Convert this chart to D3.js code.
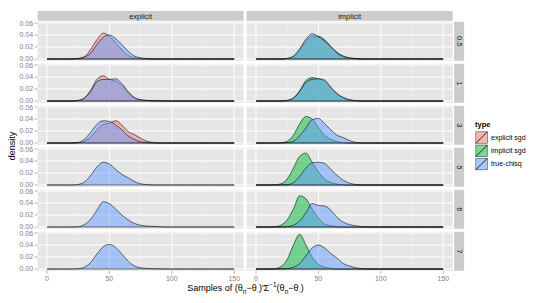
<!DOCTYPE html>
<html>
<head>
<meta charset="utf-8">
<script src="https://cdn.jsdelivr.net/npm/d3@7"></script>
<style>
body { margin:0; background:#fff; }
text { font-family: "Liberation Sans", Arial, sans-serif; }
</style>
</head>
<body>
<svg id="chart" width="550" height="303"></svg>
<script>
// grid of sample values the densities are read at
var xs = [0,5,10,15,20,25,30,35,40,45,50,55,60,65,70,75,80,85,90,95,100,105,110,115,120,125,130,135,140,145,150];

var rowLabels = ["0.5","1","3","5","6","7"];
var colLabels = ["explicit","implicit"];
var types = ["explicit sgd","implicit sgd","true-chisq"];
var typeColors = ["#F8766D","#00BA38","#619CFF"];
var xTicks = [0,50,100,150];
var yTicks = [0,0.02,0.04,0.06];

// explicit column
var exp05_sgd  = [0,0,0,0,0,0.001,0.004,0.016,0.032,0.043,0.038,0.027,0.015,0.006,0.002,0.0005,0,0,0,0,0,0,0,0,0,0,0,0,0,0,0];
var exp05_true = [0,0,0,0,0,0.0005,0.003,0.010,0.024,0.036,0.040,0.034,0.024,0.013,0.005,0.002,0.0008,0.0003,0,0,0,0,0,0,0,0,0,0,0,0,0];
var exp1_sgd   = [0,0,0,0,0,0.001,0.005,0.018,0.036,0.042,0.036,0.033,0.026,0.014,0.005,0.002,0.0008,0.0005,0.0003,0,0,0,0,0,0,0,0,0,0,0,0];
var exp1_true  = [0,0,0,0,0,0.001,0.005,0.016,0.032,0.036,0.036,0.037,0.029,0.016,0.006,0.002,0.001,0.0005,0.0003,0,0,0,0,0,0,0,0,0,0,0,0];
var exp3_sgd   = [0,0,0,0,0,0.0005,0.003,0.010,0.022,0.031,0.033,0.037,0.030,0.019,0.014,0.008,0.003,0.001,0,0,0,0,0,0,0,0,0,0,0,0,0];
var exp3_true  = [0,0,0,0,0,0.001,0.006,0.018,0.031,0.037,0.036,0.030,0.022,0.012,0.006,0.002,0.0005,0,0,0,0,0,0,0,0,0,0,0,0,0,0];
var exp5_true  = [0,0,0,0,0,0.001,0.005,0.016,0.030,0.038,0.035,0.026,0.018,0.012,0.006,0.002,0.0007,0.0002,0,0,0,0,0,0,0,0,0,0,0,0,0];
var exp6_true  = [0,0,0,0,0,0.0005,0.004,0.013,0.028,0.042,0.039,0.030,0.020,0.012,0.006,0.003,0.0015,0.001,0.0005,0,0,0,0,0,0,0,0,0,0,0,0];
var exp7_true  = [0,0,0,0,0,0.0005,0.003,0.011,0.025,0.037,0.041,0.036,0.025,0.013,0.005,0.002,0.001,0.0005,0.0003,0,0,0,0,0,0,0,0,0,0,0,0];

// implicit column
var imp05_sgd  = [0,0,0,0,0,0.0008,0.004,0.015,0.030,0.038,0.038,0.032,0.021,0.011,0.005,0.002,0.0008,0,0,0,0,0,0,0,0,0,0,0,0,0,0];
var imp05_true = [0,0,0,0,0,0.001,0.005,0.017,0.033,0.042,0.037,0.030,0.020,0.010,0.004,0.0015,0.0005,0,0,0,0,0,0,0,0,0,0,0,0,0,0];
var imp1_sgd   = [0,0,0,0,0,0.001,0.005,0.017,0.034,0.039,0.037,0.033,0.022,0.012,0.005,0.002,0.0005,0,0,0,0,0,0,0,0,0,0,0,0,0,0];
var imp1_true  = [0,0,0,0,0,0.001,0.005,0.016,0.031,0.036,0.037,0.035,0.023,0.012,0.006,0.002,0.0007,0,0,0,0,0,0,0,0,0,0,0,0,0,0];
var imp3_sgd   = [0,0,0,0,0.0005,0.003,0.013,0.032,0.044,0.040,0.026,0.013,0.006,0.002,0.0005,0,0,0,0,0,0,0,0,0,0,0,0,0,0,0,0];
var imp3_true  = [0,0,0,0,0,0.0005,0.003,0.012,0.025,0.039,0.041,0.032,0.022,0.013,0.009,0.004,0.001,0,0,0,0,0,0,0,0,0,0,0,0,0,0];
var imp5_sgd   = [0,0,0,0.0003,0.002,0.010,0.028,0.048,0.053,0.038,0.022,0.010,0.004,0.0015,0.0005,0,0,0,0,0,0,0,0,0,0,0,0,0,0,0,0];
var imp5_true  = [0,0,0,0,0,0.0005,0.004,0.014,0.028,0.037,0.038,0.036,0.026,0.016,0.008,0.003,0.001,0,0,0,0,0,0,0,0,0,0,0,0,0,0];
var imp6_sgd   = [0,0,0,0.0005,0.003,0.012,0.030,0.052,0.047,0.030,0.015,0.005,0.002,0.0005,0,0,0,0,0,0,0,0,0,0,0,0,0,0,0,0,0];
var imp6_true  = [0,0,0,0,0,0.0005,0.003,0.010,0.024,0.039,0.036,0.035,0.028,0.016,0.008,0.004,0.002,0.0005,0,0,0,0,0,0,0,0,0,0,0,0,0];
var imp7_sgd   = [0,0,0,0.0005,0.004,0.016,0.040,0.058,0.040,0.020,0.008,0.003,0.001,0,0,0,0,0,0,0,0,0,0,0,0,0,0,0,0,0,0];
var imp7_true  = [0,0,0,0,0,0.0005,0.003,0.009,0.022,0.035,0.040,0.035,0.026,0.018,0.009,0.005,0.002,0.0007,0,0,0,0,0,0,0,0,0,0,0,0,0];

// [row, col, type index, values]
var series = [
	[0,0,0,exp05_sgd],[0,0,2,exp05_true],
	[1,0,0,exp1_sgd],[1,0,2,exp1_true],
	[2,0,0,exp3_sgd],[2,0,2,exp3_true],
	[3,0,2,exp5_true],
	[4,0,2,exp6_true],
	[5,0,2,exp7_true],
	[0,1,1,imp05_sgd],[0,1,2,imp05_true],
	[1,1,1,imp1_sgd],[1,1,2,imp1_true],
	[2,1,1,imp3_sgd],[2,1,2,imp3_true],
	[3,1,1,imp5_sgd],[3,1,2,imp5_true],
	[4,1,1,imp6_sgd],[4,1,2,imp6_true],
	[5,1,1,imp7_sgd],[5,1,2,imp7_true]
];

var svg = d3.select('#chart');
var panelW = 206, panelH = 39, pitch = 42;
var colX = [37.6, 246.6];
var top0 = 21.8;

var x = d3.scaleLinear().domain([-7.5,157.5]).range([0,panelW]);
var y = d3.scaleLinear().domain([-0.003,0.062]).range([panelH,0]);

var area = d3.area()
	.x(function(d,i){ return x(xs[i]); })
	.y0(y(0))
	.y1(function(d){ return y(d); })
	.curve(d3.curveMonotoneX);

// panels
for (var r=0; r<rowLabels.length; r++){
	for (var c=0; c<colLabels.length; c++){
		var g = svg.append('g')
			.attr('id','panel'+r+'_'+c)
			.attr('transform','translate('+colX[c]+','+(top0+r*pitch)+')');
		g.append('rect').attr('width',panelW).attr('height',panelH).attr('fill','#E5E5E5');
		// minor grid
		[25,75,125].forEach(function(v){
			g.append('line').attr('x1',x(v)).attr('x2',x(v)).attr('y1',0).attr('y2',panelH)
				.attr('stroke','#F2F2F2').attr('stroke-width',0.5);
		});
		[0.01,0.03,0.05].forEach(function(v){
			g.append('line').attr('x1',0).attr('x2',panelW).attr('y1',y(v)).attr('y2',y(v))
				.attr('stroke','#F2F2F2').attr('stroke-width',0.5);
		});
		xTicks.forEach(function(v){
			g.append('line').attr('x1',x(v)).attr('x2',x(v)).attr('y1',0).attr('y2',panelH)
				.attr('stroke','#fff').attr('stroke-width',1);
		});
		yTicks.forEach(function(v){
			g.append('line').attr('x1',0).attr('x2',panelW).attr('y1',y(v)).attr('y2',y(v))
				.attr('stroke','#fff').attr('stroke-width',1);
		});
	}
}

// densities
series.forEach(function(s){
	var g = d3.select('#panel'+s[0]+'_'+s[1]);
	g.append('path')
		.datum(s[3])
		.attr('d', function(d){ return area(d) + 'Z'; })
		.attr('fill', typeColors[s[2]])
		.attr('fill-opacity',0.5)
		.attr('stroke','#000')
		.attr('stroke-opacity',0.62)
		.attr('stroke-width',0.9);
});

// column strips
colLabels.forEach(function(lab,c){
	svg.append('rect').attr('x',colX[c]).attr('y',11).attr('width',panelW).attr('height',9.8).attr('fill','#CCCCCC');
	svg.append('text').attr('x',colX[c]+panelW/2).attr('y',18.6)
		.attr('text-anchor','middle').attr('font-size',7.5).attr('fill','#1A1A1A').text(lab);
});

// row strips
rowLabels.forEach(function(lab,r){
	var sx = colX[1]+panelW+1.5, sy = top0+r*pitch;
	svg.append('rect').attr('x',sx).attr('y',sy).attr('width',10).attr('height',panelH).attr('fill','#CCCCCC');
	svg.append('text').attr('transform','translate('+(sx+2.6)+','+(sy+panelH/2)+') rotate(90)')
		.attr('text-anchor','middle').attr('font-size',7.5).attr('fill','#1A1A1A').text(lab);
});

// y axes (left column only)
rowLabels.forEach(function(lab,r){
	var g = svg.append('g').attr('transform','translate('+colX[0]+','+(top0+r*pitch)+')');
	yTicks.forEach(function(v){
		g.append('line').attr('x1',-3).attr('x2',0).attr('y1',y(v)).attr('y2',y(v))
			.attr('stroke','#7F7F7F').attr('stroke-width',0.6);
		g.append('text').attr('x',-4.5).attr('y',y(v)+2.5).attr('text-anchor','end')
			.attr('font-size',7).attr('fill','#7F7F7F').text(d3.format('.2f')(v));
	});
});

// x axes (bottom row only)
colLabels.forEach(function(lab,c){
	var g = svg.append('g').attr('transform','translate('+colX[c]+','+(top0+5*pitch+panelH)+')');
	xTicks.forEach(function(v){
		g.append('line').attr('x1',x(v)).attr('x2',x(v)).attr('y1',0).attr('y2',3)
			.attr('stroke','#7F7F7F').attr('stroke-width',0.6);
		g.append('text').attr('x',x(v)).attr('y',10).attr('text-anchor','middle')
			.attr('font-size',7).attr('fill','#7F7F7F').text(v);
	});
});

// axis titles
svg.append('text').attr('transform','translate(15,146) rotate(-90)')
	.attr('text-anchor','middle').attr('font-size',9).attr('fill','#000').text('density');

var xt = svg.append('text').attr('x',245.5).attr('y',291).attr('text-anchor','middle')
	.attr('font-size',9).attr('fill','#000');
var parts = [
	['Samples of (\u03B8',0],['n',1],['\u2212\u03B8',0],['\u00B7',1],[')\'\u03A3',0],['\u22121',2],
	['(\u03B8',0],['n',1],['\u2212\u03B8',0],['\u00B7',1],[')',0]
];
var shift = 0;
parts.forEach(function(p){
	var target = p[1]==1 ? 2.5 : (p[1]==2 ? -4 : 0);
	xt.append('tspan').attr('dy',target-shift)
		.attr('font-size', p[1]==0 ? 9 : 6.5).text(p[0]);
	shift = target;
});

// legend
var lg = svg.append('g').attr('transform','translate(475,0)');
lg.append('text').attr('x',0).attr('y',127).attr('font-size',7.5).attr('font-weight','bold').text('type');
types.forEach(function(t,i){
	var ky = 131 + i*13.2;
	lg.append('rect').attr('x',0).attr('y',ky).attr('width',13.2).attr('height',13.2)
		.attr('fill','#F2F2F2').attr('stroke','#fff').attr('stroke-width',0.6);
	lg.append('rect').attr('x',0.8).attr('y',ky+0.8).attr('width',11.6).attr('height',11.6)
		.attr('fill',typeColors[i]).attr('fill-opacity',0.5)
		.attr('stroke','#000').attr('stroke-opacity',0.62).attr('stroke-width',0.6);
	lg.append('line').attr('x1',0.8).attr('y1',ky+12.4).attr('x2',12.4).attr('y2',ky+0.8)
		.attr('stroke','#000').attr('stroke-width',0.8);
	lg.append('text').attr('x',16).attr('y',ky+9).attr('font-size',7).attr('fill','#000').text(t);
});
</script>
</body>
</html>
